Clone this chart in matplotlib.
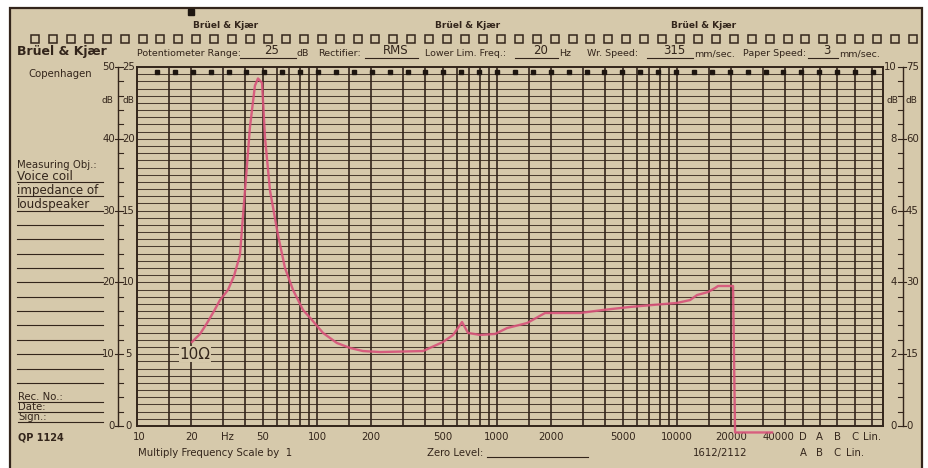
import numpy as np
import matplotlib
matplotlib.use("Agg")
import matplotlib.pyplot as plt
from matplotlib.lines import Line2D
from matplotlib.patches import Rectangle
import matplotlib.transforms as mtransforms

plt.rcParams['font.family'] = ['DejaVu Sans']

freq = [20.2, 22.4, 24.5, 26.8, 28.9, 32.0, 34.6, 37.3, 39.8, 42.4, 45.2, 47.0,
        49.5, 51.4, 54.8, 60.7, 66.4, 73.6, 83.6, 93.8, 108, 129, 153, 180, 224,
        388, 501, 570, 639, 690, 805, 975, 1137, 1468, 1848, 2892, 3880, 5482,
        7356, 10000, 11810, 12910, 14870, 16260, 16890, 20470, 21000, 33700]
level = [5.85, 6.41, 7.17, 8.01, 8.77, 9.47, 10.45, 11.9, 16.4, 20.8, 23.7, 24.2,
         23.9, 20.1, 16.4, 13.3, 11.0, 9.47, 8.08, 7.38, 6.48, 5.78, 5.43, 5.22, 5.15,
         5.22, 5.85, 6.34, 7.24, 6.48, 6.34, 6.41, 6.82, 7.17, 7.87, 7.87, 8.08, 8.29,
         8.43, 8.57, 8.77, 9.12, 9.33, 9.61, 9.75, 9.75, -0.45, -0.45]

freq_labels = ['10', '20', '50', '100', '200', '500', '1000', '2000', '5000',
               '10000', '20000', '40000']
freq_label_pos = [10.3, 20, 50, 100, 200, 500, 1000, 2000, 5000,
                  10000, 20000, 36500]
grid_mult = [1, 1.5, 2, 3, 4, 5, 6, 7, 8, 9]
weight_cols = ['D', 'A', 'B', 'C', 'Lin.']
weight_cols2 = ['A', 'B', 'C', 'Lin.']
col_freqs = [50000, 62000, 77500, 97000, 121000]

left_outer = ['50', '40', '30', '20', '10', '0']
left_inner = ['25', '20', '15', '10', '5', '0']
right_inner = ['10', '8', '6', '4', '2', '0']
right_outer = ['75', '60', '45', '30', '15', '0']
scale_pos = [25, 20, 15, 10, 5, 0]

header = [('Potentiometer Range:', 137, '25', 240, 296, 'dB'),
          ('Rectifier:', 318, 'RMS', 365, 418, None),
          ('Lower Lim. Freq.:', 425, '20', 515, 558, 'Hz'),
          ('Wr. Speed:', 587, '315', 647, 693, 'mm/sec.'),
          ('Paper Speed:', 743, '3', 808, 838, 'mm/sec.')]

paper = '#d6c9ab'
ink = '#33251b'
pen = '#d8527a'

W, H = 929, 468
fig = plt.figure(figsize=(W / 100, H / 100), dpi=100, facecolor='white')


def fx(x):
    return x / W


def fy(y):
    return 1 - y / H


def ftext(x, y, s, **kw):
    kw.setdefault('color', ink)
    fig.text(fx(x), fy(y), s, **kw)


def fline(x0, x1, y, lw=0.8):
    fig.add_artist(Line2D([fx(x0), fx(x1)], [fy(y), fy(y)], color=ink, lw=lw))


# paper sheet
fig.add_artist(Rectangle((fx(10), fy(475)), fx(912), (475 - 8) / H,
                         transform=fig.transFigure, facecolor=paper,
                         edgecolor=ink, lw=1.6, zorder=0))

ax = fig.add_axes([fx(137), fy(426), (883 - 137) / W, (426 - 67) / H])
ax.set_facecolor(paper)
ax.set_xscale('log')
ax.set_xlim(10, 10 ** 5.144)
ax.set_ylim(0, 25)
ax.set_xticks([])
ax.set_yticks([])
ax.minorticks_off()
for s in ax.spines.values():
    s.set_color(ink)
    s.set_linewidth(1.4)

# chart paper grid
vfreqs = [m * 10 ** d for d in range(1, 5) for m in grid_mult]
vfreqs = [f for f in vfreqs if 10 < f <= 40000] + col_freqs
for f in vfreqs:
    ax.axvline(f, color=ink, lw=1.2, zorder=1)
for v in np.arange(0.5, 25, 0.5):
    ax.axhline(v, color=ink, lw=0.75, alpha=0.85, zorder=1)

ax.text(21.0, 5.0, '10\u03a9', fontsize=11, color=ink, ha='center', va='center',
        bbox=dict(facecolor=paper, edgecolor='none', pad=0.6), zorder=3)

ax.plot(freq, level, color=pen, lw=1.7, alpha=0.9, clip_on=False, zorder=5,
        solid_joinstyle='round')

# timing marks along top of the grid
mx = np.linspace(157, 873, 41)
fig.add_artist(Line2D(fx(mx), np.full(len(mx), fy(71.5)), ls='none', marker='s',
                      ms=3.2, color='#1e1610'))
# sprocket holes
hx = np.linspace(35, 913, 50)
fig.add_artist(Line2D(fx(hx), np.full(len(hx), fy(39)), ls='none', marker='s',
                      ms=6, mfc='none', mec=ink, mew=1.1))
fig.add_artist(Line2D([fx(191)], [fy(12)], ls='none', marker='s', ms=5,
                      color='#1e1610'))

# header
for xc in [226, 468, 704]:
    ftext(xc, 25, 'Brüel & Kjær', fontsize=6.5, ha='center', va='center',
          fontweight='bold')
ftext(17, 52, 'Brüel & Kjær', fontsize=9, ha='left', va='center', fontweight='bold')
ftext(28, 74, 'Copenhagen', fontsize=7.3, ha='left', va='center')

for lab, x0, val, u0, u1, unit in header:
    ftext(x0, 54, lab, fontsize=6.8, ha='left', va='center')
    fline(u0, u1, 58, lw=0.8)
    ftext((u0 + u1) / 2 + 4, 51, val, fontsize=8.5, ha='center', va='center')
    if unit:
        ftext(u1 + 1, 54, unit, fontsize=6.8, ha='left', va='center')

# left side panel, aligned with the dB grid
tl = mtransforms.blended_transform_factory(fig.transFigure, ax.transData)
ax.text(fx(17), 18.2, 'Measuring Obj.:', transform=tl, fontsize=7.3, color=ink,
        ha='left', va='center')
for txt, yv in [('Voice coil', 17), ('impedance of', 16), ('loudspeaker', 15)]:
    ax.text(fx(17), yv + 0.15, txt, transform=tl, fontsize=8.6, color=ink,
            ha='left', va='baseline', clip_on=False)
    ax.plot([fx(17), fx(103)], [yv, yv], transform=tl, color=ink, lw=0.8,
            clip_on=False)
for yv in range(3, 15):
    ax.plot([fx(17), fx(103)], [yv, yv], transform=tl, color=ink, lw=0.8,
            clip_on=False)
for txt, yv in [('Rec. No.:', 1.7), ('Date:', 1.0), ('Sign.:', 0.3)]:
    ax.text(fx(18), yv + 0.12, txt, transform=tl, fontsize=7.3, color=ink,
            ha='left', va='baseline', clip_on=False)
    ax.plot([fx(18), fx(103)], [yv, yv], transform=tl, color=ink, lw=0.8,
            clip_on=False)
ftext(18, 438, 'QP 1124', fontsize=7, ha='left', va='center', fontweight='bold')

# left level scale
ax.plot([fx(118)] * 2, [0, 25], transform=tl, color=ink, lw=1.0, clip_on=False)
for v in range(0, 26):
    x0 = 115 if v % 5 == 0 else 118
    ax.plot([fx(x0), fx(123)], [v, v], transform=tl, color=ink, lw=0.8, clip_on=False)
for v, a, b in zip(scale_pos, left_outer, left_inner):
    ax.text(fx(115), v, a, transform=tl, fontsize=7.3, color=ink, ha='right',
            va='center')
    ax.text(fx(128.5), v, b, transform=tl, fontsize=7.3, color=ink, ha='center',
            va='center')
ax.text(fx(107), 22.7, 'dB', transform=tl, fontsize=6.5, color=ink, ha='center', va='center')
ax.text(fx(128), 22.7, 'dB', transform=tl, fontsize=6.5, color=ink, ha='center', va='center')

# right level scale
ax.plot([fx(903)] * 2, [0, 25], transform=tl, color=ink, lw=1.0, clip_on=False)
for v in range(0, 26):
    x1 = 906 if v % 5 == 0 else 903
    ax.plot([fx(898), fx(x1)], [v, v], transform=tl, color=ink, lw=0.8, clip_on=False)
for v, a, b in zip(scale_pos, right_inner, right_outer):
    ax.text(fx(897), v, a, transform=tl, fontsize=7.3, color=ink, ha='right',
            va='center')
    ax.text(fx(906), v, b, transform=tl, fontsize=7.3, color=ink, ha='left',
            va='center')
ax.text(fx(892), 22.7, 'dB', transform=tl, fontsize=6.5, color=ink, ha='center', va='center')
ax.text(fx(911), 22.7, 'dB', transform=tl, fontsize=6.5, color=ink, ha='center', va='center')

# frequency scale
tb = mtransforms.blended_transform_factory(ax.transData, fig.transFigure)
for f, lab in zip(freq_label_pos, freq_labels):
    ax.text(f, fy(437), lab, transform=tb, fontsize=7.3, color=ink,
            ha='center', va='center')
ax.text(32, fy(437), 'Hz', transform=tb, fontsize=7.3, color=ink, ha='center', va='center')
for f, lab in zip(col_freqs, weight_cols):
    ax.text(f, fy(437), lab, transform=tb, fontsize=7.3, color=ink, ha='center', va='center')
for f, lab in zip(col_freqs, weight_cols2):
    ax.text(f, fy(453), lab, transform=tb, fontsize=7.3, color=ink, ha='center', va='center')

ftext(138, 453, 'Multiply Frequency Scale by  1', fontsize=7.3, ha='left', va='center')
ftext(427, 453, 'Zero Level:', fontsize=7.3, ha='left', va='center')
fline(487, 588, 457, lw=0.8)
ftext(720, 453, '1612/2112', fontsize=7.3, ha='center', va='center')

fig.savefig('out.png', dpi=100, facecolor='white')
